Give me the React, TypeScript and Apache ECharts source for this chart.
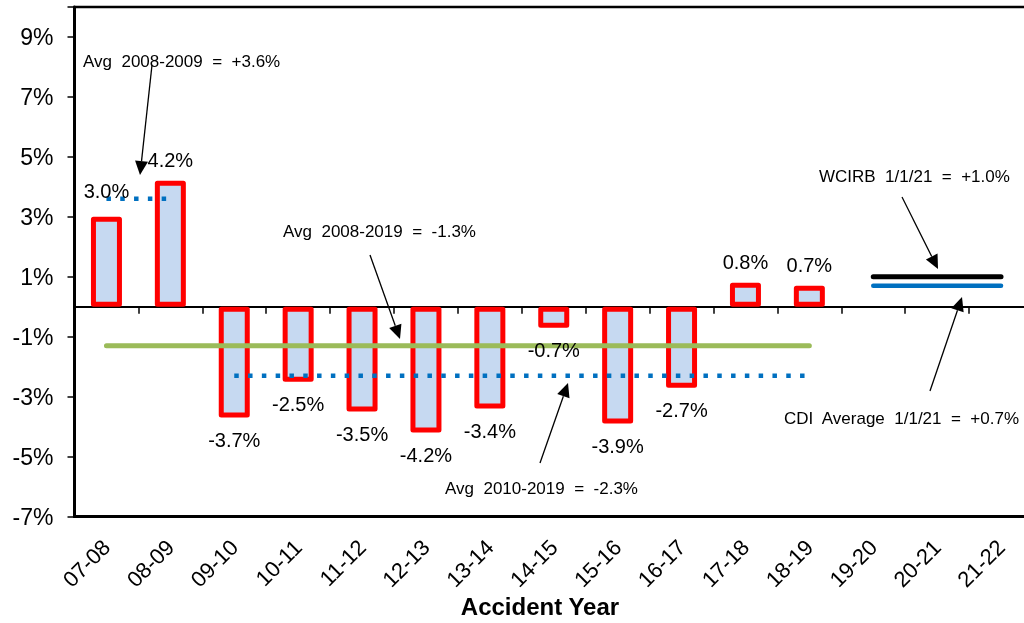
import React, { useEffect, useRef } from "react";
import * as echarts from "echarts";

const categories = ["07-08", "08-09", "09-10", "10-11", "11-12", "12-13", "13-14", "14-15", "15-16", "16-17", "17-18", "18-19", "19-20", "20-21", "21-22"];
const changeValues: (number | null)[] = [3.0, 4.2, -3.7, -2.5, -3.5, -4.2, -3.4, -0.7, -3.9, -2.7, 0.8, 0.7, null, null, null];
const avg2008to2009: (number | null)[] = [3.6, 3.6, null, null, null, null, null, null, null, null, null, null, null, null, null];
const avg2008to2019: (number | null)[] = [-1.3, -1.3, -1.3, -1.3, -1.3, -1.3, -1.3, -1.3, -1.3, -1.3, -1.3, -1.3, null, null, null];
const avg2010to2019: (number | null)[] = [null, null, -2.3, -2.3, -2.3, -2.3, -2.3, -2.3, -2.3, -2.3, -2.3, -2.3, null, null, null];
const wcirb: (number | null)[] = [null, null, null, null, null, null, null, null, null, null, null, null, 1.0, 1.0, 1.0];
const cdiAverage: (number | null)[] = [null, null, null, null, null, null, null, null, null, null, null, null, 0.7, 0.7, 0.7];
const annotationTexts = [
  "Avg  2008-2009  =  +3.6%",
  "Avg  2008-2019  =  -1.3%",
  "Avg  2010-2019  =  -2.3%",
  "WCIRB  1/1/21  =  +1.0%",
  "CDI  Average  1/1/21  =  +0.7%",
];
const xAxisTitle = "Accident Year";

const FONT = '"Liberation Sans", Arial, sans-serif';

// layout of the annotations (pixels): text left / middle, arrow from -> tip
const annotationLayout = [
  { x: 83, y: 61, arrow: [152, 65, 140, 175] },
  { x: 283, y: 231, arrow: [370, 255, 400, 339] },
  { x: 445, y: 488, arrow: [540, 463, 568, 383] },
  { x: 819, y: 176, arrow: [902, 197, 938, 269] },
  { x: 784, y: 418, arrow: [930, 391, 962, 297] },
];

function arrowGraphic(x1: number, y1: number, x2: number, y2: number) {
  const dx = x2 - x1;
  const dy = y2 - y1;
  const L = Math.hypot(dx, dy);
  const ux = dx / L;
  const uy = dy / L;
  const hl = 14;
  const hw = 6.5;
  const bx = x2 - ux * hl;
  const by = y2 - uy * hl;
  const px = -uy;
  const py = ux;
  return [
    { type: "line", shape: { x1, y1, x2: bx, y2: by }, style: { stroke: "#000", lineWidth: 1.3 } },
    {
      type: "polygon",
      shape: { points: [[x2, y2], [bx + px * hw, by + py * hw], [bx - px * hw, by - py * hw]] },
      style: { fill: "#000" },
    },
  ];
}

export default function App() {
  const ref = useRef<HTMLDivElement>(null);
  useEffect(() => {
    if (!ref.current) return;
    const chart = echarts.init(ref.current, null, { renderer: "svg" });

    const graphics: any[] = [];
    annotationTexts.forEach((t, i) => {
      const a = annotationLayout[i];
      graphics.push({
        type: "text",
        x: a.x,
        y: a.y,
        style: { text: t, fill: "#000", font: `17px ${FONT}`, textAlign: "left", textVerticalAlign: "middle" },
      });
      const [x1, y1, x2, y2] = a.arrow;
      graphics.push(...arrowGraphic(x1, y1, x2, y2));
    });
    graphics.push({
      type: "text",
      x: 540,
      y: 606,
      style: { text: xAxisTitle, fill: "#000", font: `bold 24px ${FONT}`, textAlign: "center", textVerticalAlign: "middle" },
    });

    const dottedBlue = { color: "#0070C0", width: 4.5, type: [4.5, 9.3], cap: "butt" };

    chart.setOption({
      animation: false,
      textStyle: { fontFamily: FONT },
      grid: {
        left: 74.5,
        right: -9,
        top: 7,
        bottom: 106.5,
        show: true,
        borderColor: "#000",
        borderWidth: 2.5,
        containLabel: false,
        outerBoundsMode: "none",
      },
      xAxis: [
        {
          type: "category",
          data: categories,
          position: "bottom",
          axisLine: { onZero: false, lineStyle: { color: "#000", width: 3 } },
          axisTick: { show: false },
          axisLabel: { rotate: 45, margin: 27, fontSize: 22, color: "#000", fontFamily: FONT, interval: 0 },
        },
        {
          type: "category",
          data: categories,
          position: "bottom",
          axisLine: { onZero: true, lineStyle: { color: "#000", width: 2 } },
          axisTick: { show: true, length: 7, lineStyle: { color: "#000", width: 1.5 } },
          axisLabel: { show: false },
        },
      ],
      yAxis: {
        type: "value",
        min: -7,
        max: 10,
        interval: 2,
        axisLine: { show: true, lineStyle: { color: "#000", width: 3 } },
        axisTick: { show: true, length: 7, lineStyle: { color: "#000", width: 1.5 } },
        splitLine: { show: false },
        axisLabel: {
          margin: 21,
          fontSize: 23,
          color: "#000",
          fontFamily: FONT,
          formatter: (v: number) => (v === 10 ? "" : `${v}%`),
        },
      },
      graphic: graphics,
      series: [
        {
          type: "bar",
          xAxisIndex: 0,
          barWidth: 31,
          z: 2,
          data: changeValues,
          itemStyle: { color: "#C6D9F1", borderColor: "#FF0000", borderWidth: 5, borderJoin: "round" },
        },
        {
          type: "line",
          xAxisIndex: 0,
          data: avg2008to2009,
          symbol: "none",
          z: 3,
          lineStyle: dottedBlue,
        },
        {
          type: "line",
          xAxisIndex: 0,
          data: avg2008to2019,
          symbol: "none",
          z: 3,
          lineStyle: { color: "#9BBB59", width: 5, cap: "round" },
        },
        {
          type: "line",
          xAxisIndex: 0,
          data: avg2010to2019,
          symbol: "none",
          z: 3,
          lineStyle: dottedBlue,
        },
        {
          type: "line",
          xAxisIndex: 0,
          data: wcirb,
          symbol: "none",
          z: 3,
          lineStyle: { color: "#000", width: 5, cap: "round" },
        },
        {
          type: "line",
          xAxisIndex: 0,
          data: cdiAverage,
          symbol: "none",
          z: 3,
          lineStyle: { color: "#0070C0", width: 4.5, cap: "round" },
        },
        {
          // value labels of the bars, drawn above the average lines
          type: "scatter",
          xAxisIndex: 0,
          z: 5,
          silent: true,
          symbol: "circle",
          symbolSize: 0,
          itemStyle: { color: "#000", opacity: 1 },
          emphasis: { disabled: true },
          data: changeValues.map((v, i) =>
            v == null
              ? null
              : {
                  value: v,
                  label: { position: v >= 0 ? "top" : "bottom", distance: i === 0 ? 16 : v >= 0 ? 11 : 12 },
                }
          ),
          label: {
            show: true,
            fontSize: 20,
            color: "#000",
            opacity: 1,
            textBorderWidth: 0,
            fontFamily: FONT,
            formatter: (p: any) => `${Number(p.value).toFixed(1)}%`,
          },
        },
      ],
    });
    return () => chart.dispose();
  }, []);
  return <div ref={ref} style={{ position: "fixed", left: 0, top: 0, width: 1024, height: 623 }} />;
}
